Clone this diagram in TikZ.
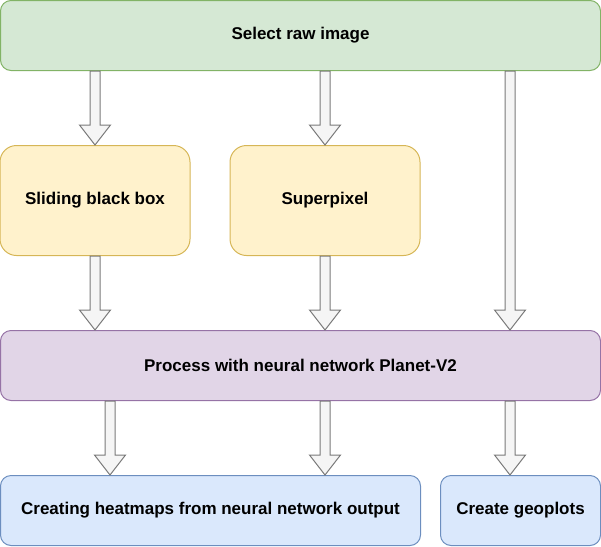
\documentclass[tikz,border=0pt]{standalone}
\usepackage{fontspec}
\setmainfont{Liberation Sans}
\usetikzlibrary{calc}
\definecolor{gfill}{HTML}{D5E8D4}\definecolor{gline}{HTML}{82B366}
\definecolor{yfill}{HTML}{FFF2CC}\definecolor{yline}{HTML}{D6B656}
\definecolor{pfill}{HTML}{E1D5E7}\definecolor{pline}{HTML}{9673A6}
\definecolor{bfill}{HTML}{DAE8FC}\definecolor{bline}{HTML}{6C8EBF}
\definecolor{afill}{HTML}{F5F5F5}\definecolor{aline}{HTML}{7A7A7A}
\tikzset{
  box/.style={rectangle, line width=1pt, align=center, inner sep=0pt,
    font=\fontsize{17}{20}\selectfont\bfseries},
  lowbox/.style={box, minimum height=70pt, rounded corners=10.5pt},
  tallbox/.style={box, minimum height=110pt, minimum width=190pt, rounded corners=16.5pt},
  green/.style={draw=gline, fill=gfill},
  yellow/.style={draw=yline, fill=yfill},
  purple/.style={draw=pline, fill=pfill},
  blue/.style={draw=bline, fill=bfill},
  blockarrow/.style={draw=aline, fill=afill, line width=1pt, line join=miter}
}
\newcommand\barrow[2]{%
  \path[blockarrow] let \p1=(#1), \p2=(#2) in
    (\x1-5pt,\y1) -- (\x1-5pt,\y2+20pt) -- (\x1-15.5pt,\y2+20pt) -- (\x1,\y2)
    -- (\x1+15.5pt,\y2+20pt) -- (\x1+5pt,\y2+20pt) -- (\x1+5pt,\y1) -- cycle;}
\begin{document}
\begin{tikzpicture}[x=1pt,y=-1pt]
\useasboundingbox (0,0) rectangle (601,546);
\node[lowbox, green, minimum width=600pt] (sel) at (300.5,35.5) {Select raw image};
\node[tallbox, yellow] (sbb) at (95,200.5) {Sliding black box};
\node[tallbox, yellow] (sp) at (325,200.5) {Superpixel};
\node[lowbox, purple, minimum width=600pt] (proc) at (300.5,365.5) {Process with neural network Planet-V2};
\node[lowbox, blue, minimum width=420pt] (heat) at (210.5,510.5) {Creating heatmaps from neural network output};
\node[lowbox, blue, minimum width=160pt] (geo) at (520.5,510.5) {Create geoplots};
\coordinate (c3) at (510,0);
\coordinate (c6) at (110,0);
\barrow{sel.south -| sbb.north}{sbb.north}
\barrow{sel.south -| sp.north}{sp.north}
\barrow{sel.south -| c3}{proc.north -| c3}
\barrow{sbb.south}{proc.north -| sbb.south}
\barrow{sp.south}{proc.north -| sp.south}
\barrow{proc.south -| c6}{heat.north -| c6}
\barrow{proc.south -| sp.south}{heat.north -| sp.south}
\barrow{proc.south -| c3}{geo.north -| c3}
\end{tikzpicture}
\end{document}
